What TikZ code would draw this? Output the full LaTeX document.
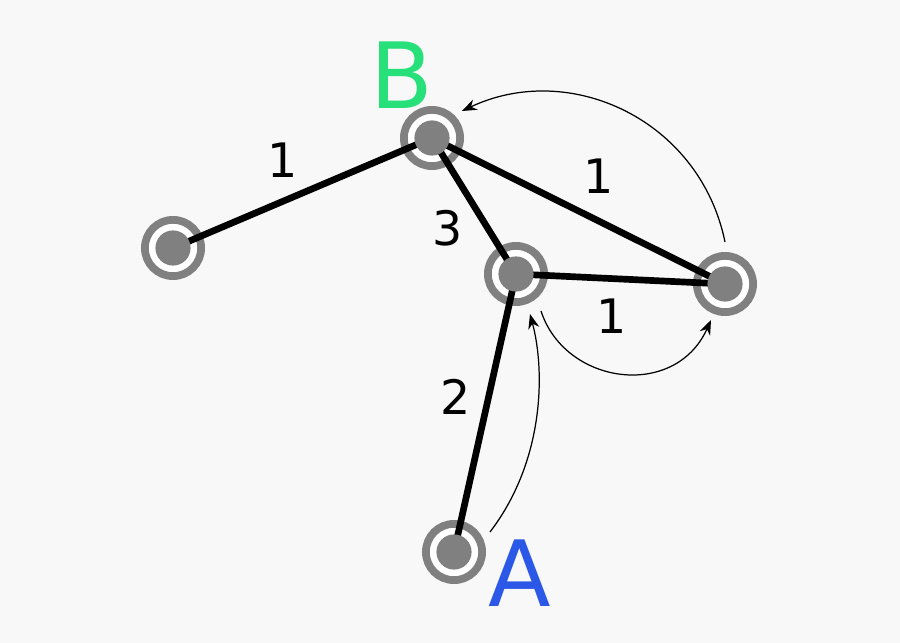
\documentclass[tikz,border=0pt]{standalone}
\usepackage{fontspec}
\setmainfont{DejaVu Sans}
\usetikzlibrary{arrows.meta}
\definecolor{ringgray}{RGB}{128,128,128}
\definecolor{bgray}{RGB}{248,248,248}
\definecolor{bgreen}{RGB}{40,224,122}
\definecolor{ablue}{RGB}{44,88,232}
\tikzset{
	ring/.style={circle,draw=ringgray,line width=2.2pt,fill=white,minimum size=16pt,inner sep=0pt},
	core/.style={circle,fill=ringgray,minimum size=10pt,inner sep=0pt},
	edge/.style={line width=1.9pt},
	weight/.style={font=\fontsize{13.5}{14}\selectfont},
	path/.style={-{Stealth[length=4.2pt,width=3.2pt]},line width=0.35pt}
}
\begin{document}
\begin{tikzpicture}[x=0.01cm,y=-0.01cm]
	\fill[bgray] (0,0) rectangle (900,643);
	\useasboundingbox (0,0) rectangle (900,643);
	% nodes
	\node[ring] (l) at (173,248) {};
	\node[ring] (b) at (432,138) {};
	\node[ring] (m) at (516,274) {};
	\node[ring] (r) at (725,284) {};
	\node[ring] (a) at (454,552) {};
	% edges
	\draw[edge] (l.center) -- (b.center);
	\draw[edge] (b.center) -- (m.center);
	\draw[edge] (b.center) -- (r.center);
	\draw[edge] (m.center) -- (r.center);
	\draw[edge] (m.center) -- (a.center);
	\foreach \n in {l,b,m,r,a}
		\node[core] at (\n) {};
	% weights
	\node[weight] (w1) at (283,160) {1};
	\node[weight] (w2) at (448,228) {3};
	\node[weight] (w3) at (599,176) {1};
	\node[weight] (w4) at (612,316) {1};
	\node[weight] (w5) at (456,397) {2};
	% labels
	\node[font=\fontsize{26}{27}\selectfont,text=bgreen] (lb) at (402,75) {B};
	\node[font=\fontsize{26}{27}\selectfont,text=ablue] (la) at (520,573) {A};
	% route
	\coordinate (p1) at (490,532);
	\coordinate (p2) at (530,314);
	\coordinate (p3) at (541,311);
	\coordinate (p4) at (711,320);
	\coordinate (p5) at (725,242);
	\coordinate (p6) at (462,111);
	\draw[path] (p1) .. controls (545,460) and (545,370) .. (p2);
	\draw[path] (p3) .. controls (565,385) and (675,400) .. (p4);
	\draw[path] (p5) .. controls (700,120) and (570,60) .. (p6);
\end{tikzpicture}
\end{document}
